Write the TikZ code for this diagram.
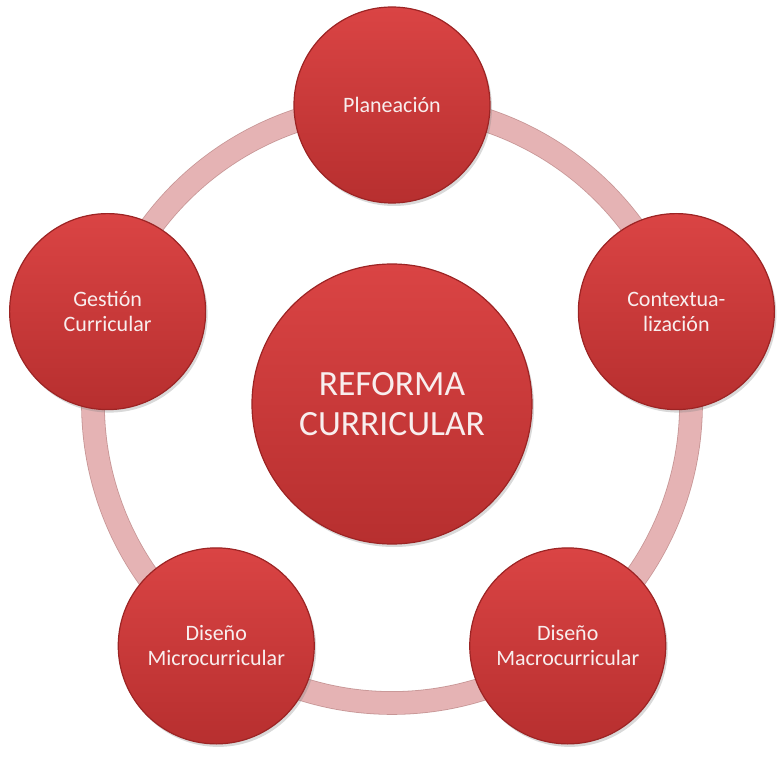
\documentclass[tikz,border=0pt]{standalone}
\usepackage{fontspec}
\setmainfont{Carlito}
\usepackage{xcolor}
\usetikzlibrary{shadows,backgrounds}

\definecolor{disctop}{HTML}{DA4444}
\definecolor{discbottom}{HTML}{B72F2F}
\definecolor{discedge}{HTML}{9C2424}
\definecolor{disctext}{HTML}{F8EEEE}
\definecolor{ringfill}{HTML}{E5B3B4}
\definecolor{ringedge}{HTML}{C79696}

\begin{document}
\begin{tikzpicture}[x=1pt,y=1pt,
  disc/.style={circle, draw=discedge, line width=1.2pt,
    top color=disctop, bottom color=discbottom, text=disctext,
    align=center, inner sep=0pt,
    drop shadow={opacity=0.3, shadow xshift=2pt, shadow yshift=-3pt}},
  small disc/.style={disc, minimum size=196pt, font=\fontsize{22}{25}\selectfont},
  big disc/.style={disc, minimum size=280pt, font=\fontsize{35.5}{40}\selectfont},
  ring/.style={draw=ringedge, line width=0.8pt, double=ringfill, double distance=22pt}]

  \useasboundingbox (-392,-353) rectangle (392,404);

  \node[big disc] (reforma) at (0,0) {REFORMA\\CURRICULAR};

  \node[small disc] (plan) at (90:299) {Planeación};
  \node[small disc] (contexto) at (18:299) {Contextua-\\lización};
  \node[small disc] (macro) at (-54:299) {Diseño\\Macrocurricular};
  \node[small disc] (micro) at (-126:299) {Diseño\\Microcurricular};
  \node[small disc] (gestion) at (162:299) {Gestión\\Curricular};

  % ring between the outer discs
  \begin{scope}[on background layer]
    \draw[ring] (plan.center) arc[start angle=90, delta angle=-72, radius=299];
    \draw[ring] (contexto.center) arc[start angle=18, delta angle=-72, radius=299];
    \draw[ring] (macro.center) arc[start angle=-54, delta angle=-72, radius=299];
    \draw[ring] (micro.center) arc[start angle=-126, delta angle=-72, radius=299];
    \draw[ring] (gestion.center) arc[start angle=162, delta angle=-72, radius=299];
  \end{scope}
\end{tikzpicture}
\end{document}
